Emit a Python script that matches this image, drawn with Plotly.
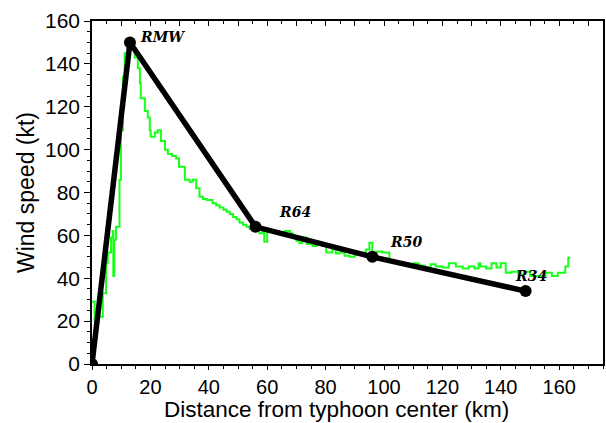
import plotly.graph_objects as go

# Radial wind profile (model/observed, green step line)
dist_km = [0, 0.9, 2.1, 3.7, 4.8, 5.4, 6.5, 7.1, 7.3, 7.6, 8.2, 9.4, 9.9, 10.6, 11.2,
           12.3, 13.3, 14.6, 15.7, 16.4, 16.7, 18.1, 19.1, 19.8, 20.1, 21.5, 22.5,
           23.6, 25.0, 26.0, 27.4, 28.8, 29.8, 31.8, 33.4, 34.5, 35.7, 36.8, 38.0,
           39.3, 41.3, 42.5, 43.7, 45.0, 46.1, 47.2, 48.3, 49.5, 50.5, 51.7, 52.9,
           54.0, 55.1, 56.2, 57.3, 58.4, 59.0, 60.0, 62.0, 64.0, 66.0, 67.8, 68.7,
           70.0, 71.0, 72.0, 73.5, 75.5, 77.0, 78.8, 80.2, 82.3, 83.5, 84.7, 86.5,
           88.2, 90.0, 91.5, 92.8, 93.8, 95.0, 96.0, 97.5, 99.4, 101.8, 104.0,
           106.2, 108.5, 110.0, 111.9, 114.0, 116.0, 117.7, 120.0, 122.2, 124.6,
           127.0, 129.0, 131.0, 132.4, 133.0, 135.0, 136.8, 138.5, 140.0, 141.7,
           143.6, 146.0, 148.0, 150.0, 152.9, 155.3, 157.5, 159.5, 162.1, 163.1, 163.8]
wind_kt = [29, 20, 22, 33, 47, 52, 59, 62, 41, 58, 64, 86, 109, 134, 145,
           148, 147, 143, 138, 131, 124, 118, 115, 109, 106, 108, 109,
           104, 100, 98, 97, 96, 92, 86, 85, 86, 82, 78, 77,
           76.5, 75, 74, 73, 72, 71, 70, 68.6, 67.5, 66, 65, 64,
           63, 65, 62, 61, 62, 57, 62, 62, 61.5, 62, 61, 59,
           57.5, 56.5, 59, 56, 55, 56.5, 55, 52, 53.4, 51.5, 52, 50.5,
           50, 51, 51, 52, 53.4, 56.6, 52, 52.5, 52, 48, 47.5,
           47, 46, 47, 46, 45, 46.5, 45.5, 45, 47, 45.5,
           44.5, 45.5, 44.5, 47, 45.5, 44.5, 47, 45, 47, 42.6,
           43, 41.7, 43, 41, 41, 42.6, 41, 42.6, 45.5, 49.6, 49.6]

# Simplified profile (black line) and its labelled radii
key_dist = [0, 13, 56, 96, 148.5]
key_wind = [0, 150, 64, 50, 34]
key_names = ["RMW", "R64", "R50", "R34"]
label_x = [24, 69.5, 107.5, 150.5]
label_y = [152.5, 71, 57, 41]

fig = go.Figure()
fig.add_trace(go.Scatter(x=dist_km, y=wind_kt, mode="lines", line_shape="hv",
                         line=dict(color="#1aff1a", width=2), showlegend=False))
fig.add_trace(go.Scatter(x=key_dist, y=key_wind, mode="lines+markers",
                         line=dict(color="black", width=5.5),
                         marker=dict(color="black", size=12), showlegend=False))
# invisible trace for top axis
fig.add_trace(go.Scatter(x=[0, 175], y=[0, 0], xaxis="x2", mode="lines",
                         line=dict(width=0), hoverinfo="skip", showlegend=False))

for name, lx, ly in zip(key_names, label_x, label_y):
    fig.add_annotation(x=lx, y=ly, text="<b><i>" + name + "</i></b>", showarrow=False,
                       font=dict(family="DejaVu Serif", size=14, color="black"))

# x-axis title placed as paper annotation
fig.add_annotation(xref="paper", yref="paper", x=0.478, y=-0.132, yanchor="middle",
                   text="Distance from typhoon center (km)", showarrow=False,
                   borderpad=0,
                   font=dict(family="Liberation Sans", size=22.5, color="black"))

tickfont = dict(family="Liberation Sans", size=20, color="black")
fig.update_layout(
    width=606, height=423,
    margin=dict(l=92, r=1, t=21, b=59),
    paper_bgcolor="white", plot_bgcolor="white",
    xaxis=dict(range=[0, 175], tickvals=[0, 20, 40, 60, 80, 100, 120, 140, 160],
               ticks="outside", ticklen=4, tickcolor="black", showgrid=False,
               zeroline=False, showline=True, linecolor="black", linewidth=1.5,
               mirror=True, tickfont=tickfont,
               minor=dict(dtick=5, ticks="outside", ticklen=3, tickcolor="black")),
    xaxis2=dict(range=[0, 175], overlaying="x", side="top", dtick=10,
                ticks="inside", ticklen=5, tickcolor="black", showticklabels=False,
                showgrid=False, zeroline=False, showline=False,
                minor=dict(dtick=5, ticks="inside", ticklen=3, tickcolor="black")),
    yaxis=dict(range=[0, 160], dtick=20, ticks="outside", ticklen=6, tickcolor="black",
               showgrid=False, zeroline=False, showline=True, linecolor="black",
               linewidth=1.5, mirror=True, tickfont=dict(family="Liberation Sans", size=21, color="black"),
               minor=dict(dtick=5, ticks="outside", ticklen=3, tickcolor="black"),
               title=dict(text="Wind speed (kt)",
                          font=dict(family="Liberation Sans", size=23, color="black"),
                          standoff=4)),
)

fig.write_html("out.html")
